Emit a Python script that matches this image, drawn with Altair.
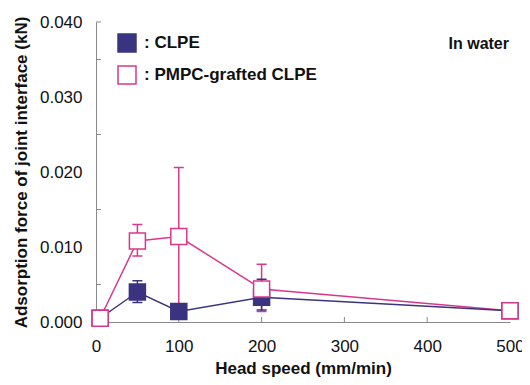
import altair as alt
import pandas as pd

# ---- data ----
speeds = [5, 50, 100, 200, 500]
clpe_mean = [0.0005, 0.0040, 0.0014, 0.0033, 0.0015]
clpe_low = [None, 0.0026, None, 0.0016, None]
clpe_high = [None, 0.0055, None, 0.0057, None]
pmpc_mean = [0.0005, 0.0108, 0.0114, 0.0044, 0.0015]
pmpc_low = [None, 0.0088, 0.0015, 0.0014, None]
pmpc_high = [None, 0.0130, 0.0206, 0.0077, None]
series_names = ["CLPE", "PMPC-grafted CLPE"]
y_label_values = [0.0, 0.01, 0.02, 0.03, 0.04]
y_minor_ticks = [0.005, 0.015, 0.025, 0.035, 0.04]
x_label_values = [0, 100, 200, 300, 400, 500]
x_minor_ticks = [100, 200, 300, 400]
note_text = ["In water"]

NAVY = "#3a3480"
PINK = "#d8388c"
GRAY = "#8a8a8a"
FONT = "Liberation Sans"

rows = []
for name, means, lows, highs in [
    (series_names[0], clpe_mean, clpe_low, clpe_high),
    (series_names[1], pmpc_mean, pmpc_low, pmpc_high),
]:
    for s, m, lo, hi in zip(speeds, means, lows, highs):
        rows.append({"series": name, "speed": s, "mean": m, "low": lo, "high": hi})
df = pd.DataFrame(rows)

W, H = 414, 300

axis_style = dict(
    ticks=False, grid=False, domainColor=GRAY, domainWidth=1,
    labelFont=FONT, labelFontSize=17, labelColor="#111",
    titleFont=FONT, titleFontSize=17, titleFontWeight="bold", titleColor="#111",
)

xscale = alt.Scale(domain=[0, 500], nice=False, zero=False)
yscale = alt.Scale(domain=[0, 0.04], nice=False, zero=False)
xaxis = alt.Axis(values=x_label_values, title="Head speed (mm/min)",
                 labelPadding=16, titlePadding=6, labelFlush=False, **axis_style)
yaxis = alt.Axis(values=y_label_values, format=".3f", title="Adsorption force of joint interface (kN)",
                 labelPadding=14, titlePadding=9, labelFlush=False, **axis_style)


def X(field):
    return alt.X(field, scale=xscale, axis=xaxis)


def Y(field):
    return alt.Y(field, scale=yscale, axis=yaxis)


base = alt.Chart(df)


def series_layers(name, color):
    sub = base.transform_filter(alt.datum.series == name)
    line = sub.mark_line(color=color, strokeWidth=1.5).encode(x=X("speed:Q"), y=Y("mean:Q"))
    err = sub.transform_filter("isValid(datum.low)")
    bar = err.mark_rule(color=color, strokeWidth=1.5).encode(x=X("speed:Q"), y=Y("low:Q"), y2="high:Q")
    cap_hi = err.mark_rule(color=color, strokeWidth=1.5, xOffset=-5, x2Offset=5).encode(
        x=X("speed:Q"), x2="speed:Q", y=Y("high:Q"))
    cap_lo = err.mark_rule(color=color, strokeWidth=1.5, xOffset=-5, x2Offset=5).encode(
        x=X("speed:Q"), x2="speed:Q", y=Y("low:Q"))
    return [bar, cap_hi, cap_lo, line]


legend = alt.Legend(title=None, orient="none", legendX=21, legendY=11, padding=0,
                    symbolType="square", symbolSize=324, symbolStrokeWidth=1.5,
                    labelFont=FONT, labelFontSize=17, labelFontWeight="bold", labelColor="#111",
                    labelExpr="': ' + datum.label", rowPadding=8, labelOffset=7, labelLimit=400)

squares = base.mark_point(shape="square", filled=True, size=256, strokeWidth=1.5, opacity=1).encode(
    x=X("speed:Q"), y=Y("mean:Q"),
    fill=alt.Fill("series:N", scale=alt.Scale(domain=series_names, range=[NAVY, "white"]), legend=legend),
    stroke=alt.Stroke("series:N", scale=alt.Scale(domain=series_names, range=[NAVY, PINK]), legend=legend),
)

y_ticks = alt.Chart(pd.DataFrame({"v": y_minor_ticks})).mark_rule(color=GRAY, strokeWidth=1).encode(
    y=Y("v:Q"), x=alt.value(0), x2=alt.value(5))
x_ticks = alt.Chart(pd.DataFrame({"v": x_minor_ticks})).mark_rule(color=GRAY, strokeWidth=1).encode(
    x=X("v:Q"), y=alt.value(H), y2=alt.value(H - 5))

note = alt.Chart(pd.DataFrame({"t": note_text})).mark_text(
    align="right", baseline="middle", font=FONT, fontSize=16, fontWeight="bold", color="#111"
).encode(text="t:N", x=alt.value(413), y=alt.value(22))

layers = [y_ticks, x_ticks] + series_layers(series_names[1], PINK) + series_layers(series_names[0], NAVY) + [squares, note]

chart = alt.layer(*layers).properties(
    width=W, height=H,
    autosize=alt.AutoSizeParams(type="none"),
    padding={"left": 88, "top": 14, "right": 12, "bottom": 55},
).configure_view(stroke=None)

chart.save("out.html", embed_options={"renderer": "svg", "actions": False})
